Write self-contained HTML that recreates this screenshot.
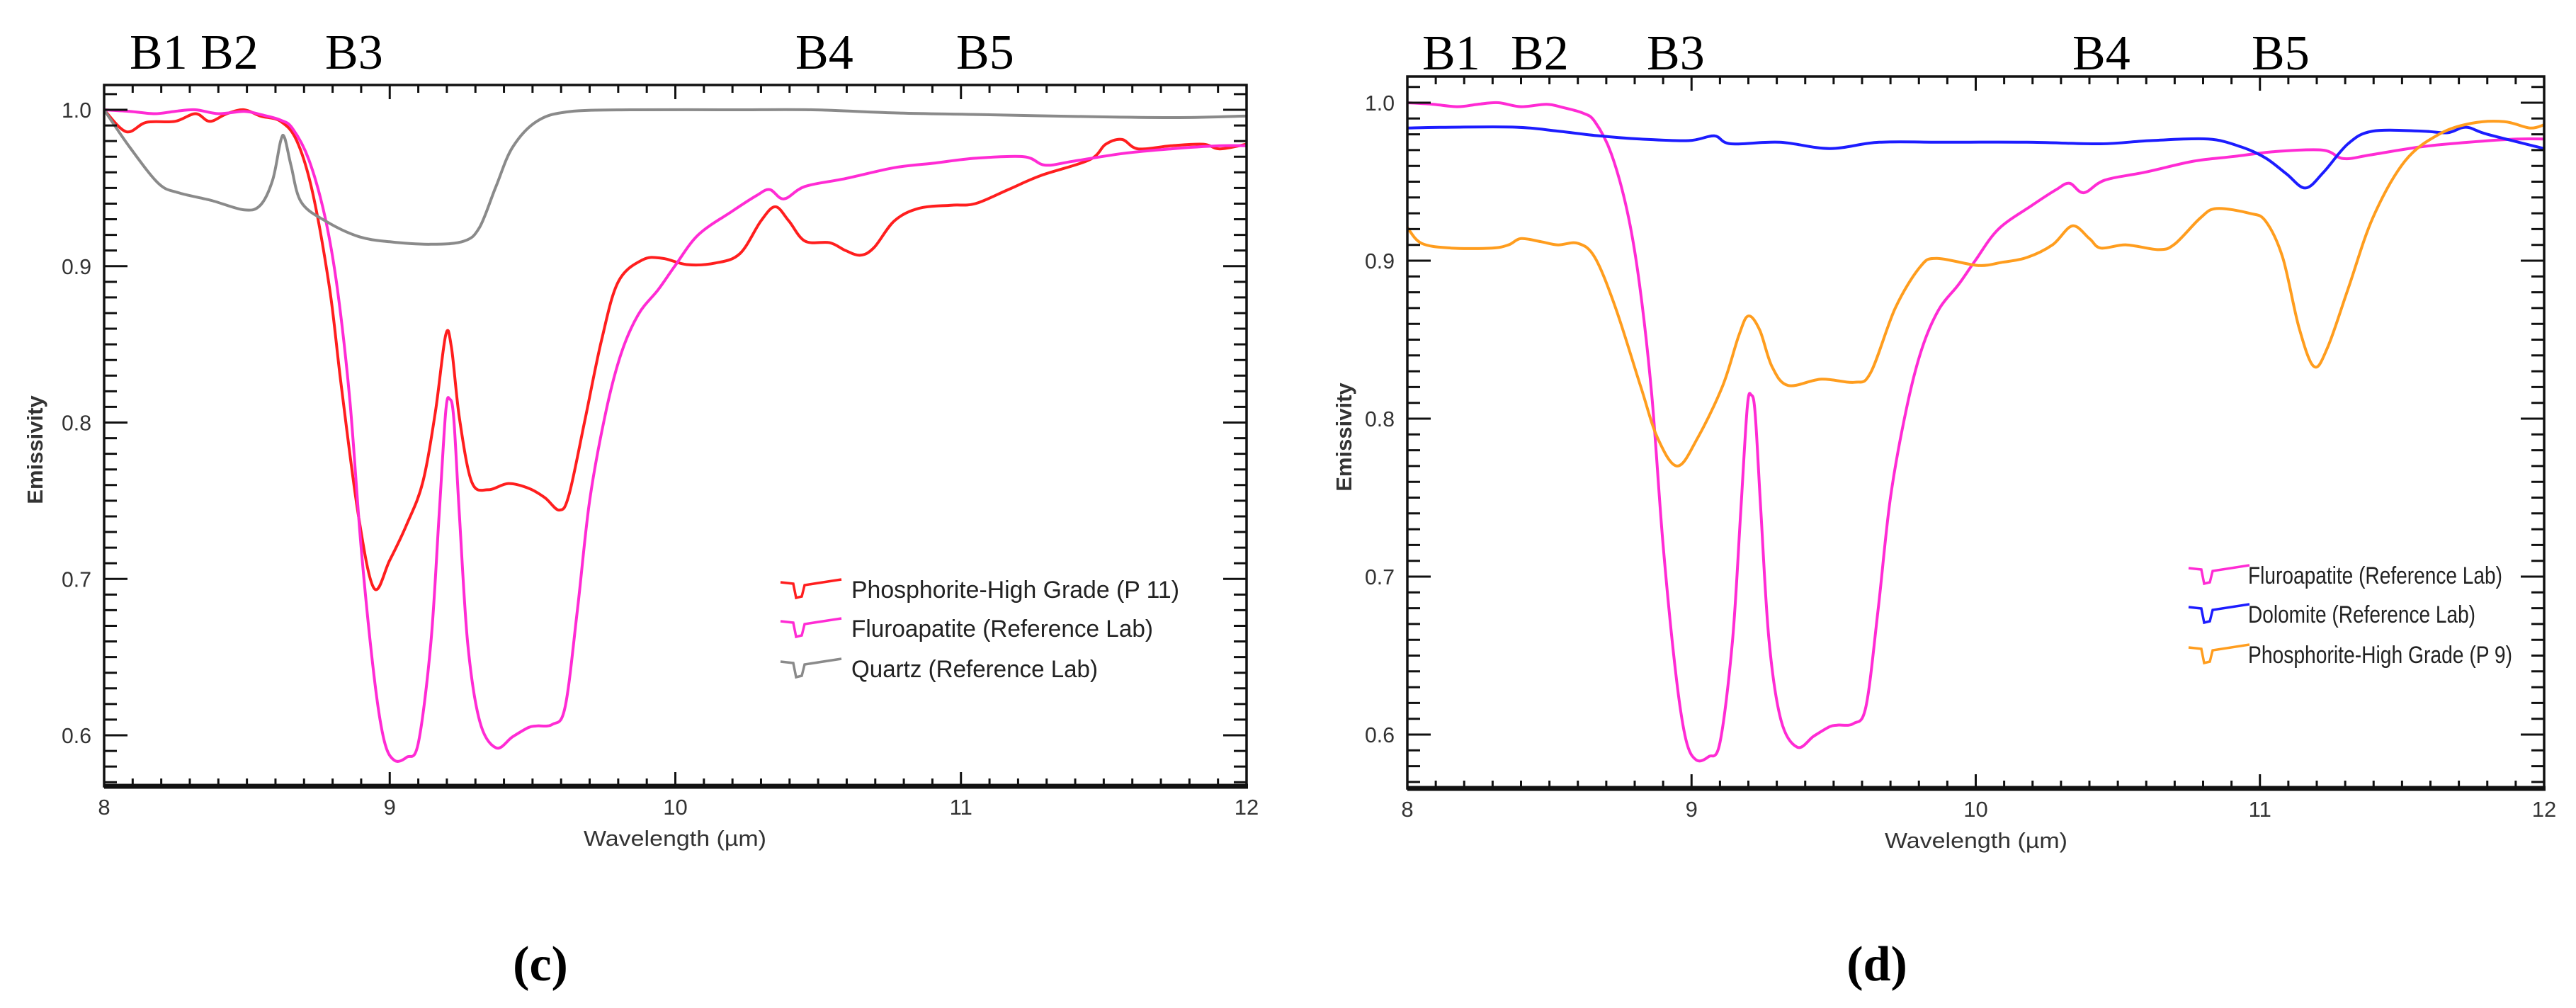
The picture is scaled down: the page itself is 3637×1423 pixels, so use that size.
<!DOCTYPE html>
<html><head><meta charset="utf-8"><style>
html,body{margin:0;padding:0;background:#fff;}
svg{display:block;}
.tick{font-family:"Liberation Sans Narrow","Liberation Sans",sans-serif;font-size:31px;fill:#333;}
.lab{font-family:"Liberation Serif",serif;font-size:70px;fill:#000;}
.leg{font-family:"Liberation Sans Narrow","Liberation Sans",sans-serif;font-size:34px;fill:#222;}
</style></head><body>
<svg id="fig" width="3637" height="1423" viewBox="0 0 3637 1423" xmlns="http://www.w3.org/2000/svg"></svg>
<script>
// ---- data (wavelength µm, emissivity) ----
const fluoroX=[8,8.09,8.177,8.248,8.32,8.4,8.49,8.547,8.618,8.66,8.717,8.774,8.817,8.86,8.9,8.945,8.98,9.016,9.06,9.10,9.144,9.173,9.196,9.21,9.224,9.244,9.273,9.315,9.372,9.43,9.486,9.515,9.57,9.614,9.657,9.70,9.757,9.81,9.87,9.94,9.998,10.08,10.198,10.283,10.33,10.38,10.454,10.596,10.767,10.91,11.05,11.22,11.294,11.39,11.564,11.735,11.906,12];
const fluoroY=[1.0,0.999,0.9975,0.999,1.0,0.9975,0.999,0.997,0.9934,0.988,0.968,0.931,0.885,0.815,0.72,0.638,0.597,0.584,0.586,0.595,0.659,0.741,0.807,0.815,0.803,0.741,0.659,0.609,0.592,0.599,0.605,0.606,0.607,0.618,0.680,0.750,0.807,0.844,0.869,0.885,0.900,0.920,0.935,0.945,0.949,0.943,0.951,0.956,0.963,0.966,0.969,0.970,0.9646,0.967,0.972,0.975,0.977,0.977];
const p11X=[8,8.077,8.148,8.248,8.32,8.37,8.43,8.49,8.547,8.618,8.675,8.73,8.79,8.83,8.89,8.945,9.0,9.06,9.116,9.16,9.196,9.216,9.244,9.287,9.344,9.415,9.486,9.543,9.594,9.628,9.685,9.742,9.8,9.885,9.956,10.04,10.14,10.226,10.3,10.35,10.397,10.454,10.54,10.596,10.648,10.696,10.767,10.853,10.966,11.05,11.166,11.28,11.45,11.507,11.564,11.62,11.735,11.849,11.906,12];
const p11Y=[1.0,0.986,0.992,0.9926,0.9975,0.9926,0.9975,1.0,0.996,0.9926,0.980,0.947,0.885,0.824,0.741,0.694,0.712,0.735,0.762,0.807,0.856,0.848,0.803,0.762,0.757,0.761,0.758,0.752,0.744,0.754,0.803,0.853,0.890,0.904,0.905,0.901,0.902,0.908,0.929,0.938,0.929,0.916,0.915,0.910,0.907,0.912,0.929,0.937,0.939,0.940,0.949,0.958,0.968,0.978,0.981,0.975,0.977,0.978,0.975,0.978];
const quartzX=[8,8.09,8.19,8.26,8.376,8.49,8.547,8.59,8.618,8.632,8.655,8.69,8.774,8.89,9.0,9.144,9.26,9.315,9.372,9.43,9.515,9.628,9.856,10.198,10.48,10.767,11.05,11.48,11.764,12];
const quartzY=[1.0,0.976,0.953,0.947,0.942,0.936,0.939,0.955,0.980,0.982,0.964,0.941,0.929,0.919,0.9156,0.914,0.916,0.925,0.951,0.976,0.9926,0.9988,1.0,1.0,1.0,0.998,0.997,0.9955,0.995,0.996];
const dolX=[8,8.154,8.385,8.53,8.675,8.82,8.99,9.08,9.138,9.31,9.486,9.66,9.89,10.18,10.44,10.615,10.818,10.934,11.02,11.093,11.16,11.224,11.31,11.397,11.57,11.66,11.725,11.80,12];
const dolY=[0.984,0.9845,0.9845,0.982,0.979,0.977,0.976,0.979,0.974,0.975,0.971,0.975,0.975,0.975,0.974,0.976,0.977,0.972,0.965,0.955,0.946,0.956,0.974,0.982,0.982,0.981,0.9845,0.98,0.971];
const p9X=[8,8.05,8.154,8.298,8.356,8.4,8.47,8.53,8.6,8.66,8.733,8.82,8.88,8.95,9.022,9.11,9.167,9.2,9.24,9.283,9.34,9.457,9.573,9.63,9.717,9.804,9.862,10.007,10.094,10.18,10.27,10.34,10.4,10.44,10.53,10.644,10.70,10.79,10.847,10.963,11.02,11.08,11.137,11.19,11.238,11.31,11.397,11.51,11.63,11.745,11.86,11.95,12];
const p9Y=[0.921,0.911,0.908,0.908,0.910,0.914,0.912,0.910,0.911,0.902,0.870,0.821,0.788,0.770,0.788,0.821,0.853,0.865,0.856,0.833,0.821,0.825,0.823,0.829,0.870,0.896,0.9015,0.897,0.899,0.902,0.910,0.922,0.914,0.908,0.910,0.907,0.9105,0.927,0.933,0.930,0.925,0.902,0.858,0.833,0.845,0.882,0.927,0.963,0.980,0.987,0.988,0.984,0.986];
const xTicks=[8,9,10,11,12];
const yTicks=[0.6,0.7,0.8,0.9,1.0];
const bandLabels=["B1","B2","B3","B4","B5"];

const NS="http://www.w3.org/2000/svg";
const svg=document.getElementById('fig');
function mk(tag,attrs,parent){const e=document.createElementNS(NS,tag);for(const k in attrs)e.setAttribute(k,attrs[k]);(parent||svg).appendChild(e);return e;}
function spline(pts){let d=`M${pts[0][0].toFixed(1)},${pts[0][1].toFixed(1)}`;
  for(let i=0;i<pts.length-1;i++){const p0=pts[i-1]||pts[i],p1=pts[i],p2=pts[i+1],p3=pts[i+2]||p2;
    const c1=[p1[0]+(p2[0]-p0[0])/6,p1[1]+(p2[1]-p0[1])/6],c2=[p2[0]-(p3[0]-p1[0])/6,p2[1]-(p3[1]-p1[1])/6];
    d+=`C${c1[0].toFixed(1)},${c1[1].toFixed(1)} ${c2[0].toFixed(1)},${c2[1].toFixed(1)} ${p2[0].toFixed(1)},${p2[1].toFixed(1)}`;}
  return d;}

function panel(cfg){
  const g=mk('g',{});
  
  
  const xs=v=>cfg.L+(v-8)*(cfg.R-cfg.L)/4;
  const ys=v=>cfg.y1+(1-v)*(cfg.y06-cfg.y1)/0.4;
  const ymin=0.6-(cfg.B-cfg.y06)/((cfg.y06-cfg.y1)/0.4), ymax=1+(cfg.y1-cfg.T)/((cfg.y06-cfg.y1)/0.4);
  cfg.series.forEach(s=>{
    const pts=s.x.map((v,i)=>[xs(v),ys(s.y[i])]);
    const p=mk('path',{d:spline(pts),fill:'none',stroke:s.color,'stroke-width':4,'stroke-linejoin':'round'},g);
    
    
  });
  const fr=mk('rect',{x:cfg.L,y:cfg.T,width:cfg.R-cfg.L,height:cfg.B-cfg.T,fill:'none',stroke:'#111','stroke-width':3.5},g);
  
  
  const xa=mk('line',{x1:cfg.L,x2:cfg.R+2,y1:cfg.B,y2:cfg.B,stroke:'#111','stroke-width':7},g);
  
  
  for(let i=0;i<=40;i++){const v=8+i*0.1,x=xs(v),maj=i%10===0,len=maj?20:11;
    mk('line',{x1:x,x2:x,y1:cfg.B,y2:cfg.B-len,stroke:'#111','stroke-width':3},g);
    mk('line',{x1:x,x2:x,y1:cfg.T,y2:cfg.T+len,stroke:'#111','stroke-width':3},g);}
  xTicks.forEach(v=>{const t=mk('text',{x:xs(v),y:cfg.B+40,'text-anchor':'middle',class:'tick'},g);t.textContent=String(v);
    
    });
  for(let k=Math.ceil(ymin*100);k<=Math.floor(ymax*100);k++){const y=ys(k/100),maj=k%10===0,len=maj?33:18;
    mk('line',{x1:cfg.L,x2:cfg.L+len,y1:y,y2:y,stroke:'#111','stroke-width':3},g);
    mk('line',{x1:cfg.R,x2:cfg.R-len,y1:y,y2:y,stroke:'#111','stroke-width':3},g);}
  yTicks.forEach(v=>{const t=mk('text',{x:cfg.L-18,y:ys(v)+11,'text-anchor':'end',class:'tick',textLength:42,lengthAdjust:'spacingAndGlyphs'},g);t.textContent=v.toFixed(1);
    
    });
  const xt=mk('text',{x:cfg.wlx,y:cfg.B+84,'text-anchor':'middle',class:'tick',textLength:258,lengthAdjust:'spacingAndGlyphs'},g);xt.textContent='Wavelength (µm)';
  
  
  const yt=mk('text',{x:0,y:0,'text-anchor':'middle',class:'tick',transform:`translate(${cfg.emx},${cfg.emy}) rotate(-90)`,'font-family':'Liberation Sans, sans-serif','font-weight':'bold','fill':'#444'},g);yt.textContent='Emissivity';
  
  
  cfg.bands.forEach((bx,i)=>{const t=mk('text',{x:bx,y:cfg.by,class:'lab'},g);t.textContent=bandLabels[i];
    
    });
  cfg.series.forEach((s,i)=>{const x0=cfg.legX,y0=cfg.legY[i];
    const ic=mk('path',{d:`M${x0},${y0-10} L${x0+18},${y0-8} L${x0+22},${y0+12} L${x0+30},${y0+10} L${x0+34},${y0-6} L${x0+86},${y0-14}`,fill:'none',stroke:s.color,'stroke-width':3.5},g);
    
    
    const t=mk('text',{x:cfg.legTX,y:y0+12,class:'leg',textLength:s.tl,lengthAdjust:'spacingAndGlyphs'},g);t.textContent=s.label;
    
    });
  const cap=mk('text',{x:cfg.capX,y:1384,'text-anchor':'middle',class:'lab','font-size':'82','font-weight':'bold'},g);cap.textContent=cfg.cap;
  
  
}
const MAG='#ff2bd4',RED='#ff1e1e',GRY='#8a8a8a',BLU='#1c1cff',ORG='#ff9d1e';
panel({name:'panel-c',L:147,R:1760,T:120,B:1110,y1:155,y06:1038,wlx:953,emx:60,emy:635,by:97,
  bands:[183,283,459,1123,1350],legX:1102,legTX:1202,legY:[832,887,944],capX:763,cap:'(c)',
  series:[{id:'phosphorite-p11',x:p11X,y:p11Y,color:RED,label:'Phosphorite-High Grade (P 11)',tl:463},
          {id:'fluoroapatite',x:fluoroX,y:fluoroY,color:MAG,label:'Fluroapatite (Reference Lab)',tl:426},
          {id:'quartz',x:quartzX,y:quartzY,color:GRY,label:'Quartz (Reference Lab)',tl:348}]});
panel({name:'panel-d',L:1987,R:3592,T:108,B:1113,y1:145,y06:1037,wlx:2790,emx:1908,emy:617,by:98,
  bands:[2008,2133,2325,2926,3179],legX:3090,legTX:3174,legY:[812,867,924],capX:2650,cap:'(d)',
  series:[{id:'fluoroapatite',x:fluoroX,y:fluoroY,color:MAG,label:'Fluroapatite (Reference Lab)',tl:359},
          {id:'dolomite',x:dolX,y:dolY,color:BLU,label:'Dolomite (Reference Lab)',tl:321},
          {id:'phosphorite-p9',x:p9X,y:p9Y,color:ORG,label:'Phosphorite-High Grade (P 9)',tl:373}]});
</script>
</body></html>
